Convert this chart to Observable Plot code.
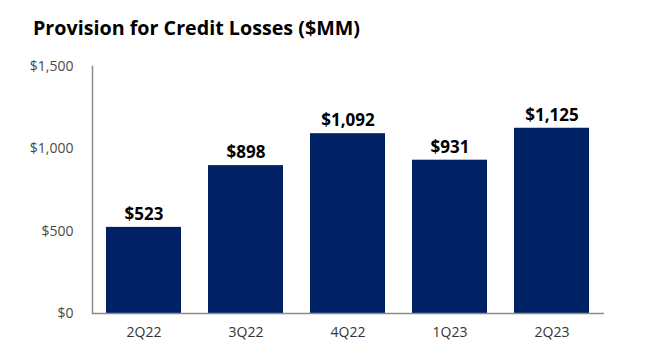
<!DOCTYPE html>
<html>
<head>
<meta charset="utf-8">
<script src="https://cdn.jsdelivr.net/npm/d3@7"></script>
<script src="https://cdn.jsdelivr.net/npm/@observablehq/plot@0.6"></script>
<style>
  html, body { margin: 0; padding: 0; background: #fff; }
  #title { font-family: "Open Sans", sans-serif; font-weight: 700; font-size: 19.7px; color: #000;
           height: 50px; box-sizing: border-box; padding: 16px 0 0 33px; line-height: 24px; }
</style>
</head>
<body>
<div id="title">Provision for Credit Losses ($MM)</div>
<div id="chart"></div>
<script>
const quarters = ["2Q22", "3Q22", "4Q22", "1Q23", "2Q23"];
const provision = [523, 898, 1092, 931, 1125];
const yTicks = [0, 500, 1000, 1500];

const data = quarters.map((q, i) => ({ q, v: provision[i] }));
const fmt = v => "$" + d3.format(",")(v);

const chart = Plot.plot({
  width: 649,
  height: 308,
  marginTop: 16,
  marginBottom: 45,
  marginLeft: 92,
  marginRight: 45,
  style: { fontFamily: "Open Sans, sans-serif", background: "#fff" },
  x: { domain: quarters, paddingInner: 0.264, paddingOuter: 0.137, label: null },
  y: { domain: [0, 1500], label: null },
  marks: [
    Plot.barY(data, { x: "q", y: "v", fill: "#002163" }),
    Plot.axisY({ ticks: yTicks, tickFormat: fmt, tickSize: 0, tickPadding: 19, fontSize: 14, fill: "#4a4a4a", label: null }),
    Plot.axisX({ tickSize: 0, tickPadding: 14, fontSize: 14, fill: "#333333", label: null }),
    Plot.frame({ anchor: "left", stroke: "#8c8c8c", strokeWidth: 1.5 }),
    Plot.ruleY([0], { stroke: "#8c8c8c", strokeWidth: 1.5 }),
    Plot.text(data, { x: "q", y: "v", text: d => fmt(d.v), dy: -13, fontSize: 17, fontWeight: "bold", fill: "#000" })
  ]
});
document.getElementById("chart").appendChild(chart);
</script>
</body>
</html>
